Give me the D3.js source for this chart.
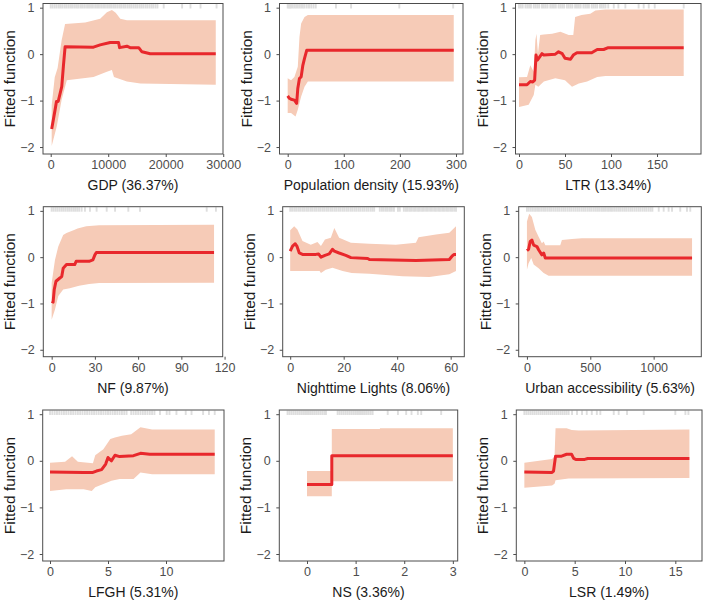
<!DOCTYPE html>
<html lang="en">
<head>
<meta charset="UTF-8">
<title>Fitted functions</title>
<script src="https://cdn.jsdelivr.net/npm/d3@7"></script>
<style>
    body { margin: 0; background: #fff; }
    svg { display: block; font-family: "Liberation Sans", Arial, sans-serif; }
    .tick text { fill: #4d4d4d; font-size: 12.5px; }
    .tick line { stroke: #4d4d4d; }
    .xtitle { font-size: 14px; fill: #1a1a1a; }
    .ytitle { font-size: 15.5px; fill: #1a1a1a; }
</style>
</head>
<body>
<div id="chart"></div>
<script>
/*------------------- data -----------------------------------------*/
// each fit / upper / lower is [x, fitted value]
const gdpFit = [[170,-1.61],[760,-1.2],[1000,-1.02],[1300,-1.02],[1920,-0.7],[2200,-0.27],[2500,0.157],[7440,0.15],[8600,0.2],[10350,0.25],[11800,0.25],[11980,0.14],[13250,0.17],[13800,0.14],[15300,0.14],[15870,0.05],[17300,0.01],[28700,0.01]];
const gdpUpper = [[170,-1.1],[700,-0.5],[1200,-0.3],[1900,0.3],[2500,0.65],[6000,0.68],[8600,0.76],[9770,0.9],[10640,0.95],[11300,0.89],[12100,0.76],[13250,0.73],[28700,0.73]];
const gdpLower = [[170,-1.98],[1050,-1.56],[1900,-0.98],[2800,-0.56],[7440,-0.49],[9770,-0.38],[10640,-0.34],[11000,-0.49],[13250,-0.59],[15600,-0.63],[28700,-0.66]];
const gdpRug = [0,330,690,1040,1420,1750,2080,2460,2790,3150,3520,3840,4210,4560,4880,5260,5590,5940,6320,6660,7010,7340,7720,8060,8390,8760,9110,9430,9810,10150,10490,10860,11190,11560,11920,12240,12610,12940,13320,13660,13990,14360,14710,15040,15420,15750,16090,16460,16790,17160,17510,17830,18210,18560,19650,22850,24300,26050,28840];
const gdpTicks = [0,10000,20000,30000];

const popFit = [[0,-0.9],[3,-0.95],[6,-0.97],[12,-0.99],[16,-1.06],[18,-0.74],[21,-0.52],[24,-0.49],[27,-0.24],[30,-0.09],[34,0.086],[296,0.086]];
const popUpper = [[0,-0.52],[6,-0.56],[12,-0.49],[18,-0.27],[21,0.37],[24,0.66],[30,0.8],[36,0.84],[296,0.84]];
const popLower = [[0,-1.27],[6,-1.27],[14,-1.34],[18,-1.2],[24,-0.91],[30,-0.7],[36,-0.59],[296,-0.59]];
const popRug = [0,2,4,6,9,12,15,18,21,24,27,30,34,38,42,46,50,86,113,199,295];
const popTicks = [0,100,200,300];

const ltrFit = [[0,-0.66],[8.7,-0.66],[12.3,-0.59],[15,-0.6],[17,-0.56],[18.5,-0.02],[20,-0.13],[22.5,-0.06],[25,0.01],[27,-0.02],[39.5,0],[43,0.05],[47,0.01],[50,-0.09],[56,-0.11],[59,-0.02],[63,0.03],[79,0.03],[85,0.1],[92,0.1],[97,0.14],[179,0.14]];
const ltrUpper = [[0,-0.5],[8.7,-0.49],[12.3,-0.24],[16,-0.38],[17.8,0.3],[19,0.44],[20.6,0.01],[23,0.41],[27,0.42],[36,0.44],[45,0.48],[54,0.41],[59,0.41],[61,0.8],[68,0.84],[77.5,0.87],[83,0.94],[94,0.96],[179,0.96]];
const ltrLower = [[0,-1.14],[10.5,-1.09],[16,-0.88],[17.8,-0.66],[21,-0.7],[27,-0.59],[39.5,-0.52],[50,-0.56],[57.6,-0.7],[65,-0.63],[74,-0.59],[85,-0.49],[94,-0.47],[179,-0.47]];
const ltrRug = [0,2,4,7,9,11,13,16,18,20,22,25,27,29,31,34,36,38,40,43,45,47,49,52,54,56,58,61,63,65,67,70,72,74,76,79,81,83,85,88,90,92,94,97,103,108,115.6,130,135.5,141,147.5,179];
const ltrTicks = [0,50,100,150];

const nfFit = [[0,-0.95],[1,-0.97],[1.8,-0.7],[3,-0.52],[5.7,-0.45],[7,-0.42],[8,-0.24],[10.3,-0.16],[16,-0.16],[17,-0.09],[26,-0.09],[28.6,-0.06],[30,0.05],[31,0.1],[112.7,0.1]];
const nfUpper = [[0,-0.56],[2.3,-0.06],[4.6,0.23],[8,0.48],[10.3,0.52],[16,0.59],[18,0.62],[24,0.67],[33,0.69],[112.7,0.7]];
const nfLower = [[0,-1.35],[2.3,-1.13],[4.6,-0.84],[8,-0.7],[12.6,-0.67],[19,-0.62],[26,-0.58],[33,-0.56],[112.7,-0.55]];
const nfRug = [0,1.3,2.7,4,5.4,6.8,8.1,9.5,10.9,12.2,13.6,15,16.3,17.7,19.1,20.8,23.1,26.6,31.2,38.2,44,53.2,61.3,107.6,114];
const nfTicks = [0,30,60,90,120];

const ntlFit = [[0,0.13],[0.9,0.24],[1.9,0.29],[2.5,0.24],[3.4,0.09],[4.6,0.06],[9.6,0.06],[10.6,0.07],[11.5,0],[13,0.04],[14.6,0.07],[15.8,0.17],[16.5,0.13],[18.3,0.09],[20.8,0.04],[22.7,-0.01],[29,-0.03],[29.6,-0.05],[47,-0.07],[59.5,-0.05],[60.5,0.02],[61.3,0.06],[62,0.06]];
const ntlUpper = [[0,0.58],[1.5,0.67],[2.7,0.6],[4.6,0.35],[7.7,0.27],[10.2,0.33],[11.5,0.24],[13,0.38],[15.2,0.42],[16.5,0.63],[18.3,0.42],[22.7,0.31],[29.6,0.29],[39.5,0.27],[47,0.31],[48,0.43],[54.5,0.49],[59.5,0.53],[62,0.67]];
const ntlLower = [[0,-0.3],[11,-0.3],[11.5,-0.34],[13.3,-0.27],[15.8,-0.23],[19.6,-0.3],[23,-0.34],[29.6,-0.36],[42,-0.41],[52,-0.43],[59.5,-0.37],[62,-0.3]];
const ntlRug = [0,0.7,1.5,2.2,3,3.7,4.5,5.2,6,6.7,7.5,8.2,9,9.7,10.5,11.2,12,12.7,13.5,14.2,15,15.7,16.5,17.2,18,18.7,19.5,20.2,21,21.7,22.5,23.2,24,24.7,25.5,26.2,27,27.7,28.5,29.2,30,30.7,31.4,33.5,34.3,35,35.8,36.5,37.3,38,38.8,40.3,41,42.5,43.3,44,44.8,45.5,46.3,47,47.8,48.5,49.3,50,50.8,51.5,52.3,53,53.8,54.5,55.3,56,56.8,57.5,58.3,59,59.8,60.5,61.3,62];
const ntlTicks = [0,20,40,60];

const uaFit = [[0,0.14],[13,0.17],[26,0.34],[39,0.37],[53,0.26],[79,0.23],[92,0.16],[118,0.05],[132,0.09],[145,-0.02],[1303,-0.02]];
const uaUpper = [[0,0.77],[18,0.94],[39,0.87],[66,0.59],[92,0.44],[118,0.3],[132,0.34],[145,0.26],[263,0.26],[276,0.37],[355,0.39],[434,0.41],[1303,0.41]];
const uaLower = [[0,-0.27],[13,-0.13],[34,-0.02],[53,-0.16],[92,-0.24],[132,-0.34],[171,-0.4],[1303,-0.4]];
const uaRug = [0,15,31,47,64,80,95,112,128,143,160,176,191,208,224,240,255,272,288,303,320,336,351,368,384,400,415,432,448,463,480,496,511,528,544,560,575,592,608,623,640,656,671,688,704,720,735,752,768,783,800,816,831,848,864,880,895,912,928,943,960,976,990,1040,1079,1118,1145,1210,1263,1289];
const uaTicks = [0,500,1000];

const lfghFit = [[0,-0.24],[2.9,-0.25],[3.7,-0.25],[4.0,-0.22],[4.45,-0.19],[4.8,-0.07],[5,0.07],[5.3,0],[5.6,0.12],[6,0.09],[7.2,0.11],[7.8,0.16],[8.6,0.14],[14.2,0.14]];
const lfghUpper = [[0,-0.04],[1.3,-0.02],[1.9,0.1],[2.4,-0.02],[3.7,-0.05],[3.9,0.12],[4.6,0.25],[5.2,0.47],[5.6,0.5],[6.2,0.54],[7,0.57],[7.8,0.72],[8.8,0.67],[14.2,0.67]];
const lfghLower = [[0,-0.65],[1.4,-0.61],[2.9,-0.61],[3.6,-0.65],[3.9,-0.57],[4.6,-0.5],[5.3,-0.43],[6,-0.39],[7.2,-0.39],[7.8,-0.25],[8.8,-0.29],[14.2,-0.29]];
const lfghRug = [0,0.2,0.4,0.6,0.8,1,1.2,1.4,1.6,1.8,2,2.2,2.4,2.6,2.8,3,3.2,3.4,3.6,3.8,4,4.2,4.4,4.6,4.8,5,5.2,5.4,5.6,5.8,6,6.2,6.4,6.6,7,7.2,7.4,7.6,7.8,8,8.2,8.4,8.6,8.8,9,9.48,10.06,10.3,10.9,11.7,12.2,13.2,13.7,14.2];
const lfghTicks = [0,5,10];

const nsFit = [[0,-0.51],[0.51,-0.51],[0.51,0.11],[3,0.11]];
const nsUpper = [[0,-0.22],[0.51,-0.22],[0.51,0.68],[1.5,0.68],[1.5,0.7],[3,0.7]];
const nsLower = [[0,-0.76],[0.51,-0.76],[0.51,-0.44],[3,-0.44]];
const nsRug = [-0.4,-0.36,-0.32,-0.28,-0.24,-0.2,-0.16,-0.12,-0.08,-0.04,0,0.04,0.08,0.12,0.16,0.2,0.24,0.28,0.32,0.36,0.39,0.63,0.67,0.71,0.75,0.79,0.83,0.87,0.91,0.95,0.99,1.03,1.07,1.11,1.15,1.19,1.23,1.27,1.31,1.35,1.66,1.87,2.04,2.15,2.28,2.35,2.76];
const nsTicks = [0,1,2,3];

const lsrFit = [[0,-0.24],[2.75,-0.25],[2.9,-0.22],[3.1,0.1],[3.7,0.1],[4.2,0.14],[4.7,0.14],[4.9,0.05],[5.1,0.03],[6,0.03],[6.3,0.05],[16.4,0.05]];
const lsrUpper = [[0,-0.04],[2.75,0.04],[3.0,0.09],[3.1,0.7],[4.2,0.7],[4.7,0.66],[5.4,0.65],[16.4,0.67]];
const lsrLower = [[0,-0.58],[2.75,-0.53],[3,-0.49],[3.1,-0.42],[4.4,-0.38],[16.4,-0.37]];
const lsrRug = [0,0.2,0.4,0.6,0.8,1,1.2,1.4,1.6,1.8,2,2.2,2.4,2.6,2.8,3,3.2,3.4,3.6,3.8,4,4.2,4.4,4.74,5.23,5.73,6.2,6.7,7.2,7.55,8.88,9.37,10.2,11.86,15,16,16.3];
const lsrTicks = [0,5,10,15];

const yTicks = [-2,-1,0,1];
const yDomain = [-2.15, 1.09];

const panels = [
    { label: "GDP (36.37%)", fit: gdpFit, upper: gdpUpper, lower: gdpLower, rug: gdpRug, ticks: gdpTicks, xDomain: [-1340, 29960] },
    { label: "Population density (15.93%)", fit: popFit, upper: popUpper, lower: popLower, rug: popRug, ticks: popTicks, xDomain: [-14.6, 312.5] },
    { label: "LTR (13.34%)", fit: ltrFit, upper: ltrUpper, lower: ltrLower, rug: ltrRug, ticks: ltrTicks, xDomain: [-3.8, 197.8] },
    { label: "NF (9.87%)", fit: nfFit, upper: nfUpper, lower: nfLower, rug: nfRug, ticks: nfTicks, xDomain: [-5.8, 118.7] },
    { label: "Nighttime Lights (8.06%)", fit: ntlFit, upper: ntlUpper, lower: ntlLower, rug: ntlRug, ticks: ntlTicks, xDomain: [-2.8, 65.1] },
    { label: "Urban accessibility (5.63%)", fit: uaFit, upper: uaUpper, lower: uaLower, rug: uaRug, ticks: uaTicks, xDomain: [-65, 1376] },
    { label: "LFGH (5.31%)", fit: lfghFit, upper: lfghUpper, lower: lfghLower, rug: lfghRug, ticks: lfghTicks, xDomain: [-0.63, 15.0] },
    { label: "NS (3.36%)", fit: nsFit, upper: nsUpper, lower: nsLower, rug: nsRug, ticks: nsTicks, xDomain: [-0.57, 3.1] },
    { label: "LSR (1.49%)", fit: lsrFit, upper: lsrUpper, lower: lsrLower, rug: lsrRug, ticks: lsrTicks, xDomain: [-0.8, 17.65] }
];

/*------------------- layout: panel frames [left, top, right, bottom] --------------------*/
const frames = [
    [43, 3.5, 223, 154], [279.5, 3.5, 463, 154], [515.5, 3.5, 701, 154],
    [43.3, 206.7, 222.7, 356.7], [282.7, 206.7, 464.3, 356.7], [518.7, 206.7, 701.3, 356.7],
    [42.7, 410, 224, 561], [279.3, 410, 457.7, 561], [516.3, 410, 702, 561]
];

const width = 708, height = 601;
const svg = d3.select("#chart").append("svg")
    .attr("width", width)
    .attr("height", height);

panels.forEach((p, i) => {
    const [l, t, r, b] = frames[i];
    const x = d3.scaleLinear().domain(p.xDomain).range([l, r]);
    const y = d3.scaleLinear().domain(yDomain).range([b, t]);
    const g = svg.append("g");

    // confidence band: upper edge forward, lower edge back
    const band = p.upper.concat(p.lower.slice().reverse());
    g.append("path")
        .attr("d", d3.line().x(d => x(d[0])).y(d => y(d[1]))(band) + "Z")
        .attr("fill", "#f6cbb7")
        .attr("stroke", "none");

    // rug along the top
    g.selectAll(".rug")
        .data(p.rug)
        .enter()
        .append("line")
        .attr("x1", d => x(d)).attr("x2", d => x(d))
        .attr("y1", t + 0.5).attr("y2", t + 5)
        .attr("stroke", "#dedede")
        .attr("stroke-width", 1.9);

    g.append("path")
        .attr("d", d3.line().x(d => x(d[0])).y(d => y(d[1]))(p.fit))
        .attr("fill", "none")
        .attr("stroke", "#e8282c")
        .attr("stroke-width", 3)
        .attr("stroke-linejoin", "round");

    g.append("rect")
        .attr("x", l).attr("y", t)
        .attr("width", r - l).attr("height", b - t)
        .attr("fill", "none")
        .attr("stroke", "#4d4d4d")
        .attr("stroke-width", 1);

    const yAxis = g.append("g")
        .attr("transform", `translate(${l},0)`)
        .call(d3.axisLeft(y).tickValues(yTicks).tickSize(3).tickPadding(5.5)
            .tickFormat(d => String(d).replace("-", "\u2212")));
    yAxis.select(".domain").remove();

    const xAxis = g.append("g")
        .attr("transform", `translate(0,${b})`)
        .call(d3.axisBottom(x).tickValues(p.ticks).tickSize(3).tickPadding(3)
            .tickFormat(d3.format("d")));
    xAxis.select(".domain").remove();

    g.append("text")
        .attr("class", "xtitle")
        .attr("x", (l + r) / 2)
        .attr("y", b + 36)
        .attr("text-anchor", "middle")
        .text(p.label);

    g.append("text")
        .attr("class", "ytitle")
        .attr("transform", `translate(${l - 28},${(t + b) / 2}) rotate(-90)`)
        .attr("text-anchor", "middle")
        .text("Fitted function");
});
</script>
</body>
</html>
